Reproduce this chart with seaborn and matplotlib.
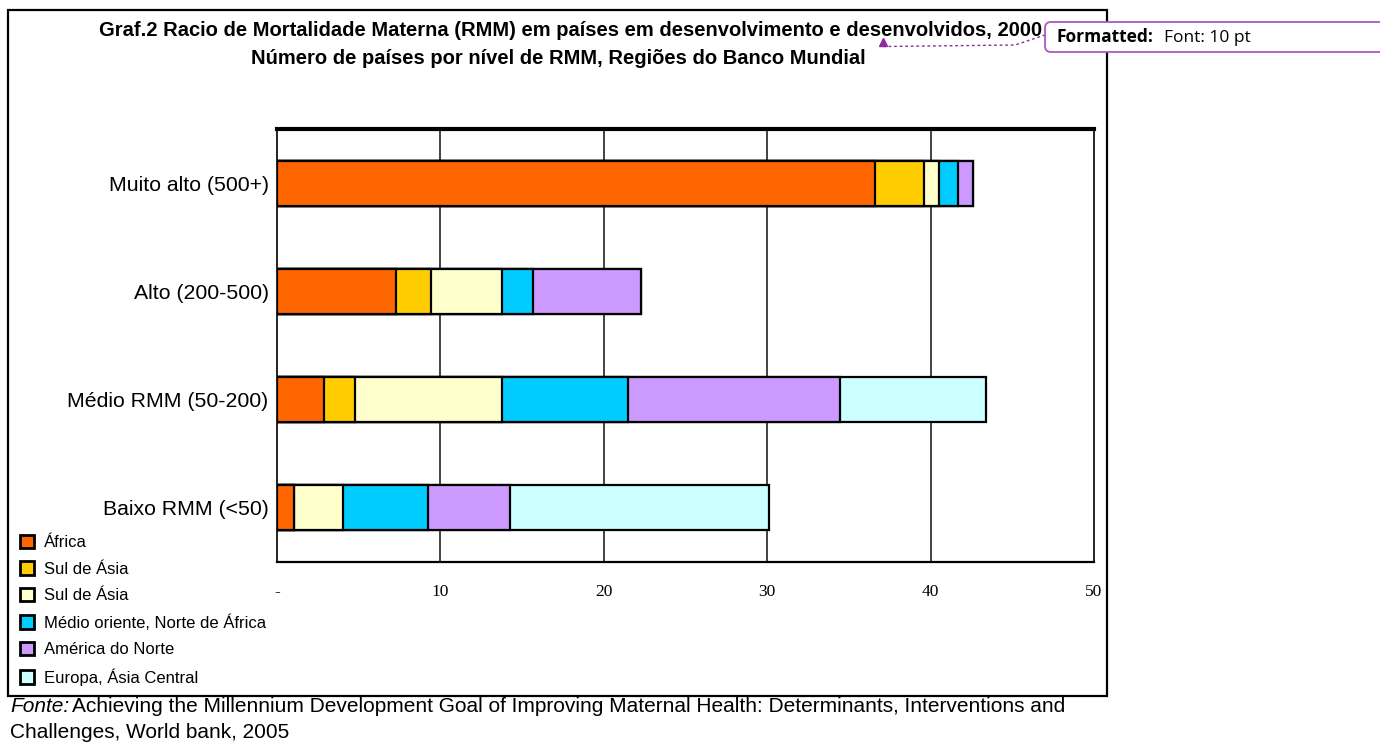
import numpy as np
import pandas as pd
import seaborn as sns
import matplotlib.pyplot as plt
from matplotlib.patches import Patch, Rectangle, FancyBboxPatch

# categories (top to bottom) and legend series
categorias = ["Muito alto (500+)", "Alto (200-500)", "Médio RMM (50-200)", "Baixo RMM (<50)"]
series = ["África", "Sul de Ásia", "Sul de Ásia", "Médio oriente, Norte de África",
          "América do Norte", "Europa, Ásia Central"]
cores = ["#FF6600", "#FFCC00", "#FFFFCC", "#00CCFF", "#CC99FF", "#CCFFFF"]

# number of countries per region
africa = [36.6, 7.3, 2.9, 1.05]
sul_asia_1 = [3.0, 2.1, 1.85, 0.0]
sul_asia_2 = [0.9, 4.4, 9.0, 3.0]
medio_oriente = [1.2, 1.9, 7.75, 5.2]
america_norte = [0.9, 6.6, 12.95, 5.0]
europa = [0.0, 0.0, 8.95, 15.85]

x_ticks = [0, 10, 20, 30, 40, 50]
x_ticklabels = ["-", "10", "20", "30", "40", "50"]

sns.set_style("white")
plt.rcParams["font.family"] = ["Liberation Sans", "DejaVu Sans"]
plt.rcParams["text.color"] = "black"
plt.rcParams["xtick.color"] = "black"
plt.rcParams["ytick.color"] = "black"
plt.rcParams["axes.labelcolor"] = "black"

fig = plt.figure(figsize=(13.8, 7.45), dpi=100)
ax = fig.add_axes([0.2007, 0.2456, 0.5920, 0.5812])

valores = np.array([africa, sul_asia_1, sul_asia_2, medio_oriente, america_norte, europa])
acumulado = valores.cumsum(axis=0)

# stacked bars: draw the cumulative totals from the longest down
for i in range(len(series) - 1, -1, -1):
    df = pd.DataFrame({"cat": categorias, "val": acumulado[i]})
    sns.barplot(data=df, x="val", y="cat", orient="h", color=cores[i], saturation=1,
                width=0.415, edgecolor="black", linewidth=1.6, ax=ax, zorder=3)

ax.set_xlim(0, 50)
ax.set_ylim(3.5, -0.5)
ax.set_xlabel("")
ax.set_ylabel("")

ax.set_xticks(x_ticks)
ax.set_xticklabels(x_ticklabels, family="Liberation Serif", fontsize=12.5)
ax.tick_params(axis="x", direction="inout", length=12, width=1.2, color="black", pad=10)
for xv in x_ticks[1:5]:
    ax.axvline(xv, color="#222222", lw=1.2, zorder=1)

ax.set_yticks(range(len(categorias)))
ax.set_yticklabels(categorias, fontsize=15.3)
ax.tick_params(axis="y", length=0, pad=6)
ax.set_yticks([-0.5, 0.5, 1.5, 2.5, 3.5], minor=True)
ax.tick_params(axis="y", which="minor", direction="out", length=7, width=1.2, color="black")

for s in ["left", "right"]:
    ax.spines[s].set_linewidth(1.2)
    ax.spines[s].set_color("black")
ax.spines["bottom"].set_linewidth(1.6)
ax.spines["bottom"].set_color("black")
ax.spines["top"].set_linewidth(3)
ax.spines["top"].set_color("black")

handles = [Patch(facecolor=c, edgecolor="black", linewidth=2) for c in cores]
fig.legend(handles, series, loc="upper left", bbox_to_anchor=(20 / 1380, 1 - 535 / 745),
           bbox_transform=fig.transFigure, frameon=False, fontsize=12,
           handlelength=0.85, handleheight=0.85, handletextpad=0.6, labelspacing=0.66,
           borderpad=0, borderaxespad=0)

# overlay in pixel coordinates for frame, title, note and source
ov = fig.add_axes([0, 0, 1, 1], zorder=10)
ov.set_xlim(0, 1380)
ov.set_ylim(745, 0)
ov.axis("off")
ov.patch.set_alpha(0)

ov.add_patch(Rectangle((8, 10), 1099, 686, fill=False, lw=1.6, edgecolor="black"))
ov.text(571, 31, "Graf.2 Racio de Mortalidade Materna (RMM) em países em desenvolvimento e desenvolvidos, 2000",
        ha="center", va="center", fontsize=14.5, fontweight="bold", zorder=2)
ov.text(558, 58, "Número de países por nível de RMM, Regiões do Banco Mundial",
        ha="center", va="center", fontsize=14.5, fontweight="bold", zorder=2)

ov.add_patch(FancyBboxPatch((1045, 22), 345, 30, boxstyle="round,pad=0,rounding_size=6",
                            facecolor="white", edgecolor="#A858BE", lw=1.3, zorder=5))
ov.text(1057, 37.5, "Formatted:", ha="left", va="center", fontsize=12.5, fontweight="bold",
        family=["Open Sans", "DejaVu Sans"], zorder=6)
ov.text(1164, 37.5, "Font: 10 pt", ha="left", va="center", fontsize=12.5,
        family=["Open Sans", "DejaVu Sans"], zorder=6)
ov.plot([883, 1015, 1045], [46.5, 45, 35], ls=(0, (2, 2)), color="#8E2A9E", lw=1, zorder=4)
ov.plot([883], [42], marker="^", ms=6, color="#8E2A9E", zorder=4)

nar = ["Liberation Sans Narrow", "Liberation Sans"]
ov.text(10, 707, "Fonte:", ha="left", va="center", fontsize=15, style="italic", family=nar)
ov.text(72, 707, "Achieving the Millennium Development Goal of Improving Maternal Health: Determinants, Interventions and",
        ha="left", va="center", fontsize=15, family=nar)
ov.text(10, 733, "Challenges, World bank, 2005", ha="left", va="center", fontsize=15, family=nar)

fig.savefig("out.png", dpi=100)
